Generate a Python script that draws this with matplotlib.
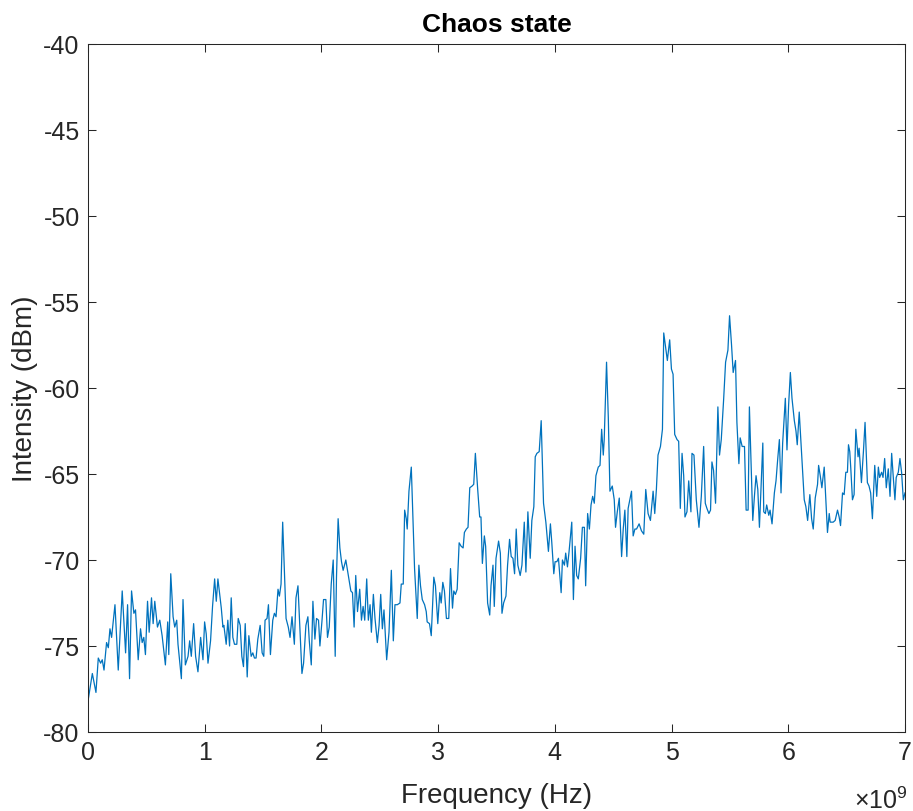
import matplotlib

matplotlib.use("Agg")  # no display
import matplotlib.pyplot as plt
import numpy as np

# spectrum, frequency in GHz, level in dBm
freq_a = [0.000, 0.037, 0.068, 0.088, 0.108, 0.122, 0.137, 0.159, 0.174, 0.188,
          0.202, 0.231, 0.259, 0.293, 0.322, 0.339, 0.356, 0.373, 0.393, 0.407,
          0.430, 0.450, 0.464, 0.478, 0.492, 0.510, 0.524, 0.544, 0.558, 0.572,
          0.595, 0.615, 0.635, 0.663, 0.683, 0.692, 0.709, 0.729, 0.743, 0.760,
          0.771, 0.800, 0.814, 0.834, 0.857, 0.871, 0.885, 0.905, 0.922, 0.942,
          0.965, 0.985, 0.999, 1.013, 1.028, 1.050, 1.067, 1.085, 1.099, 1.113,
          1.142, 1.156]
level_a = [-78.2, -76.6, -77.7, -75.7, -76.0, -75.8, -76.4, -74.8, -75.1, -74.0,
           -74.5, -72.6, -76.4, -71.8, -75.4, -72.6, -76.9, -71.8, -73.1, -72.9,
           -75.8, -74.0, -74.8, -74.5, -75.5, -72.4, -74.2, -72.2, -73.7, -72.4,
           -73.9, -73.5, -74.4, -76.1, -73.6, -75.5, -70.8, -73.3, -73.9, -73.5,
           -74.9, -76.9, -72.3, -76.1, -75.6, -74.7, -75.6, -73.7, -75.6, -76.5,
           -74.5, -75.8, -73.6, -74.3, -76.0, -74.7, -72.7, -71.1, -72.4, -71.1,
           -72.8, -73.9]

freq_b = [1.164, 1.184, 1.198, 1.213, 1.227, 1.241, 1.255, 1.275, 1.287, 1.304,
          1.318, 1.332, 1.347, 1.364, 1.378, 1.398, 1.412, 1.426, 1.440, 1.455,
          1.475, 1.492, 1.506, 1.517, 1.534, 1.546, 1.563, 1.583, 1.597, 1.611,
          1.628, 1.640, 1.654, 1.668, 1.685, 1.697, 1.716, 1.731, 1.748, 1.768,
          1.782, 1.799, 1.816, 1.833, 1.847, 1.867, 1.884, 1.896, 1.913, 1.927,
          1.944, 1.958, 1.975, 1.987, 2.004, 2.018, 2.038, 2.052, 2.067, 2.084,
          2.101, 2.118, 2.129, 2.143, 2.158, 2.172, 2.186, 2.209, 2.252, 2.266,
          2.280]
level_b = [-73.8, -74.9, -73.5, -75.0, -72.2, -74.5, -74.9, -74.9, -73.4, -73.8,
           -75.6, -76.2, -73.7, -76.8, -74.4, -75.6, -75.4, -75.7, -75.7, -74.6,
           -73.8, -75.4, -75.6, -73.5, -73.4, -72.6, -75.5, -73.5, -73.1, -73.3,
           -71.7, -72.1, -71.4, -67.8, -71.0, -73.4, -73.9, -74.5, -73.3, -74.9,
           -72.2, -71.5, -74.0, -76.6, -76.0, -73.8, -73.3, -74.7, -76.1, -72.4,
           -74.6, -73.4, -73.5, -75.0, -73.6, -72.3, -72.3, -74.5, -73.9, -71.4,
           -70.0, -75.6, -71.0, -67.6, -69.3, -70.1, -70.6, -70.0, -71.8, -71.9,
           -73.9]

freq_c = [2.294, 2.309, 2.328, 2.343, 2.357, 2.371, 2.388, 2.402, 2.417, 2.428,
          2.445, 2.459, 2.479, 2.494, 2.508, 2.522, 2.536, 2.559, 2.579, 2.599,
          2.616, 2.630, 2.650, 2.673, 2.684, 2.701, 2.713, 2.727, 2.735, 2.750,
          2.770, 2.787, 2.798, 2.821, 2.835, 2.849, 2.864, 2.884, 2.898, 2.906,
          2.926, 2.941, 2.963, 2.977, 2.997, 3.014, 3.026, 3.040, 3.054, 3.071,
          3.091, 3.106, 3.123, 3.134, 3.148, 3.163, 3.180, 3.197, 3.214, 3.225,
          3.242, 3.256, 3.271, 3.291, 3.305, 3.319, 3.339, 3.356, 3.367, 3.379,
          3.396, 3.407, 3.424, 3.442, 3.453, 3.470]
level_c = [-70.9, -73.0, -71.7, -73.5, -72.7, -73.5, -71.1, -73.5, -72.6, -74.2,
           -72.0, -73.4, -74.8, -73.8, -72.0, -74.0, -72.9, -75.8, -74.2, -70.6,
           -74.7, -72.6, -72.6, -72.5, -71.4, -71.4, -67.1, -67.6, -68.2, -66.0,
           -64.6, -68.2, -70.5, -73.4, -70.3, -71.5, -72.3, -72.6, -73.0, -73.6,
           -73.7, -74.4, -71.0, -71.5, -73.7, -71.9, -72.5, -71.3, -71.8, -73.4,
           -73.4, -70.5, -72.8, -71.8, -72.0, -71.7, -69.0, -69.2, -69.3, -68.4,
           -68.2, -68.1, -65.8, -65.7, -65.6, -63.8, -65.9, -67.5, -67.5, -70.2,
           -68.6, -69.2, -72.5, -73.2, -71.5, -70.3]

freq_d = [3.481, 3.496, 3.518, 3.533, 3.547, 3.561, 3.581, 3.595, 3.612, 3.626,
          3.641, 3.655, 3.669, 3.683, 3.703, 3.718, 3.738, 3.752, 3.769, 3.789,
          3.803, 3.820, 3.832, 3.846, 3.866, 3.883, 3.903, 3.923, 3.945, 3.962,
          3.974, 3.991, 4.002, 4.017, 4.031, 4.054, 4.065, 4.082, 4.093, 4.108,
          4.122, 4.145, 4.159, 4.173, 4.187, 4.201, 4.221, 4.236, 4.253, 4.264,
          4.281, 4.296, 4.310, 4.324, 4.338, 4.352, 4.372, 4.387, 4.401, 4.415,
          4.423, 4.443, 4.458, 4.472, 4.492, 4.509, 4.520, 4.535, 4.552, 4.572,
          4.586, 4.600, 4.617, 4.628]
level_d = [-72.7, -69.9, -68.9, -69.6, -73.1, -72.5, -72.1, -70.3, -68.8, -69.8,
           -69.9, -70.8, -68.2, -70.3, -70.9, -70.3, -67.8, -70.7, -67.2, -69.9,
           -67.7, -66.9, -64.0, -63.8, -63.7, -61.9, -66.7, -67.8, -69.5, -67.9,
           -69.0, -70.8, -70.1, -70.1, -69.9, -71.9, -70.0, -70.3, -69.6, -70.4,
           -69.5, -67.8, -72.3, -69.2, -70.9, -71.1, -69.9, -68.1, -68.1, -71.5,
           -67.3, -68.2, -66.8, -66.3, -66.7, -65.1, -64.6, -64.5, -62.4, -63.9,
           -63.0, -58.5, -61.7, -66.0, -65.7, -66.5, -68.1, -67.2, -66.4, -69.8,
           -68.2, -67.1, -69.8, -67.0]

freq_e = [4.657, 4.671, 4.686, 4.700, 4.722, 4.742, 4.762, 4.779, 4.799, 4.819,
          4.842, 4.856, 4.870, 4.884, 4.905, 4.922, 4.933, 4.950, 4.964, 4.984,
          4.999, 5.013, 5.027, 5.047, 5.061, 5.075, 5.090, 5.104, 5.115, 5.132,
          5.147, 5.166, 5.175, 5.192, 5.212, 5.235, 5.255, 5.275, 5.289, 5.303,
          5.320, 5.334, 5.346, 5.360, 5.377, 5.397, 5.411, 5.426, 5.446, 5.463,
          5.483, 5.497, 5.514, 5.528, 5.548, 5.560, 5.577, 5.588, 5.605, 5.625,
          5.639, 5.656, 5.667, 5.682, 5.696, 5.710, 5.724, 5.739, 5.753, 5.767,
          5.782]
level_e = [-66.0, -68.6, -68.2, -68.2, -67.9, -68.3, -68.5, -65.9, -67.3, -67.7,
           -66.0, -67.3, -65.9, -63.9, -63.4, -62.4, -56.8, -57.7, -58.4, -57.2,
           -58.9, -59.2, -62.7, -63.0, -63.1, -67.0, -63.8, -65.1, -67.5, -67.2,
           -65.4, -67.2, -63.8, -63.9, -66.5, -68.1, -66.3, -63.4, -66.7, -67.0,
           -67.3, -67.1, -64.3, -64.8, -66.7, -61.1, -63.9, -63.0, -60.7, -58.5,
           -57.8, -55.8, -57.5, -59.1, -58.4, -62.0, -64.4, -62.9, -63.4, -63.4,
           -67.1, -67.1, -61.1, -64.5, -67.7, -66.3, -65.1, -65.9, -68.1, -65.7,
           -63.2]

freq_f = [5.790, 5.804, 5.815, 5.833, 5.844, 5.861, 5.881, 5.895, 5.910, 5.924,
          5.938, 5.952, 5.975, 5.989, 6.003, 6.018, 6.032, 6.052, 6.066, 6.077,
          6.094, 6.109, 6.123, 6.137, 6.151, 6.166, 6.185, 6.200, 6.214, 6.231,
          6.251, 6.260, 6.274, 6.288, 6.308, 6.322, 6.336, 6.351, 6.359, 6.374,
          6.385, 6.402, 6.422, 6.436, 6.448, 6.465, 6.479, 6.493, 6.507, 6.516,
          6.527, 6.536, 6.550, 6.564, 6.579, 6.598, 6.607, 6.627, 6.644, 6.658,
          6.678, 6.692, 6.706, 6.721, 6.741, 6.758, 6.772, 6.783, 6.800, 6.812,
          6.826, 6.840, 6.857, 6.872, 6.886, 6.900, 6.914, 6.925, 6.943, 6.957,
          6.971, 6.986, 7.000]
level_f = [-67.2, -67.3, -66.8, -67.4, -67.1, -67.9, -66.1, -65.4, -64.1, -63.0,
           -66.1, -63.2, -60.6, -63.6, -61.0, -59.1, -60.6, -61.9, -62.5, -63.3,
           -61.4, -63.2, -64.9, -66.5, -66.9, -67.7, -66.2, -67.6, -68.2, -66.4,
           -65.6, -64.5, -65.1, -65.8, -64.6, -66.5, -68.4, -67.3, -67.8, -67.8,
           -67.8, -67.7, -67.1, -67.5, -68.0, -66.1, -66.2, -64.9, -64.9, -63.3,
           -63.7, -64.7, -66.5, -66.2, -62.4, -64.0, -63.5, -65.5, -63.7, -62.0,
           -65.5, -65.7, -66.1, -67.6, -64.5, -66.3, -64.6, -65.2, -64.9, -65.2,
           -64.1, -65.8, -64.7, -66.3, -63.8, -65.2, -66.5, -65.2, -64.9, -64.1,
           -64.9, -66.5, -66.1]

x_ticks = [0, 1, 2, 3, 4, 5, 6, 7]
y_ticks = [-80, -75, -70, -65, -60, -55, -50, -45, -40]

freq_hz = np.array(freq_a + freq_b + freq_c + freq_d + freq_e + freq_f) * 1e9
level_dbm = np.array(level_a + level_b + level_c + level_d + level_e + level_f)

plt.rcParams["font.family"] = ["Liberation Sans", "DejaVu Sans"]
plt.rcParams["mathtext.fontset"] = "custom"
plt.rcParams["mathtext.rm"] = "Liberation Sans"
plt.rcParams["axes.unicode_minus"] = False  # plain hyphen like MATLAB

AX_COLOR = "#262626"

fig = plt.figure(figsize=(9.13, 8.12), dpi=100)
ax = fig.add_axes([0.0964, 0.0973, 0.8948, 0.8473])
ax.plot(freq_hz, level_dbm, color="#0072BD", lw=0.9)

ax.set_xlim(0, 7e9)
ax.set_ylim(-80, -40)
ax.set_xticks([t * 1e9 for t in x_ticks])
ax.set_xticklabels([str(t) for t in x_ticks])
ax.set_yticks(y_ticks)
ax.tick_params(direction="in", length=6, width=0.75, top=True, right=True,
               labelsize=18, colors=AX_COLOR, pad=6)
for s in ax.spines.values():
    s.set_color(AX_COLOR)
    s.set_linewidth(0.75)

ax.set_title("Chaos state", fontsize=19, fontweight="bold", pad=9)
ax.set_xlabel("Frequency (Hz)", fontsize=20, color=AX_COLOR, labelpad=13)
ax.set_ylabel("Intensity (dBm)", fontsize=20, color=AX_COLOR, labelpad=4)
ax.text(1.003, -0.11, r"$\times\mathregular{10^{9}}$", transform=ax.transAxes,
        ha="right", va="baseline", fontsize=18, color=AX_COLOR)

fig.savefig("out.png", dpi=100)
plt.close(fig)
